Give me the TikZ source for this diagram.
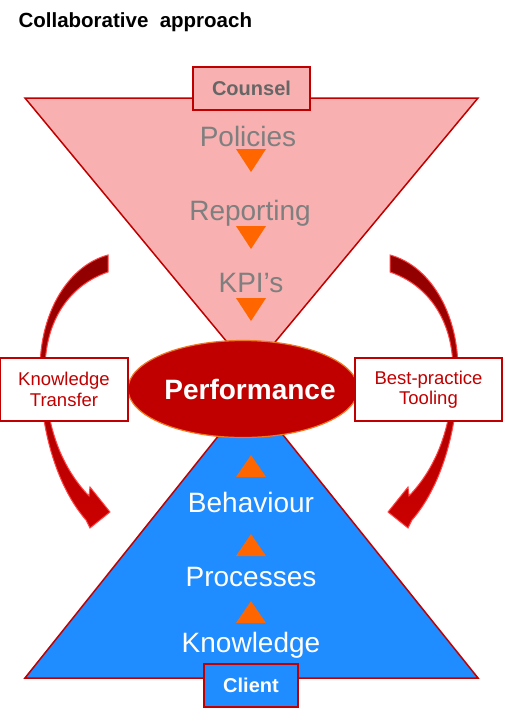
\documentclass[tikz,border=0pt]{standalone}
\usepackage{fontspec}
\setmainfont{Liberation Sans}
\usetikzlibrary{shapes.geometric}
\definecolor{darkred}{HTML}{C00000}
\definecolor{pinkfill}{HTML}{F8B0B0}
\definecolor{bluefill}{HTML}{1F8CFF}
\definecolor{arrowtop}{HTML}{8E0000}
\definecolor{arrowbot}{HTML}{CC0000}
\definecolor{arrowedge}{HTML}{FF4545}
\definecolor{tipfill}{HTML}{FF6600}
\definecolor{ellipseedge}{HTML}{F07820}
\definecolor{graytext}{HTML}{7F7F7F}
\definecolor{labelgray}{HTML}{666666}
\newcommand{\txtsize}[1]{\fontsize{#1}{#1}\selectfont}
\newcommand{\bentarrow}{%
  \path[crescent] (108,255) .. controls (70,265) and (40,310) .. (40,370)
    .. controls (40,432) and (58,488) .. (86,520)
    -- (90,528) -- (110,512) -- (90,487) -- (89,496)
    .. controls (64,470) and (45,430) .. (45,370)
    .. controls (45,320) and (70,285) .. (108,272) -- cycle;}

\begin{document}
\begin{tikzpicture}[x=1pt,y=-1pt,
    labelbox/.style={draw=darkred, line width=2pt, minimum height=43pt, inner sep=0pt, font=\bfseries\txtsize{20}},
    sidebox/.style={draw=darkred, line width=2pt, fill=white, minimum height=63pt, inner sep=0pt, align=center, text=darkred, font=\txtsize{18.5}},
    level/.style={anchor=base, font=\txtsize{28}},
    tip/.style={fill=tipfill},
    crescent/.style={top color=arrowtop, bottom color=arrowbot, draw=arrowedge, line width=1pt}]
        \useasboundingbox (0,0) rectangle (504,723);
        \node[anchor=base west, font=\bfseries\txtsize{20.5}] (title) at (15,27) {Collaborative~~approach};
        % the two funnels
        \draw[darkred, line width=1.5pt, fill=pinkfill] (25,98) -- (478,98) -- (251,371) -- cycle;
        \draw[darkred, line width=1.5pt, fill=bluefill] (25,678) -- (478,678) -- (251,395) -- cycle;
        \node[labelbox, fill=pinkfill, text=labelgray, minimum width=117pt] (counsel) at (251.5,88.5) {Counsel};
        \node[labelbox, fill=bluefill, text=white, minimum width=94pt] (client) at (251,685.5) {Client};
        \node[level, text=graytext] (policies) at (248,146) {Policies};
        \node[level, text=graytext] (reporting) at (250,220) {Reporting};
        \node[level, text=graytext] (kpis) at (251,292) {KPI’s};
        \node[level, text=white] (behaviour) at (251,512) {Behaviour};
        \node[level, text=white] (processes) at (251,586) {Processes};
        \node[level, text=white] (knowledge) at (251,652) {Knowledge};
        \foreach \y in {149,226,298} \fill[tip] (236,\y) -- (266,\y) -- (251,{\y+23}) -- cycle;
        \foreach \y in {477,556,623} \fill[tip] (236,\y) -- (266,\y) -- (251,{\y-22}) -- cycle;
        % centre
        \node[ellipse, fill=darkred, draw=ellipseedge, line width=1.2pt, minimum width=230pt, minimum height=97pt] (perfshape) at (243,389) {};
        \node[font=\bfseries\txtsize{28}, text=white] (perf) at (250,389) {Performance};
        % side arrows
        \bentarrow
        \begin{scope}[shift={(498,0)}, xscale=-1]
            \bentarrow
        \end{scope}
        \node[sidebox, minimum width=128pt] (transfer) at (64,389.5) {Knowledge\\[2pt]Transfer};
        \node[sidebox, minimum width=147pt] (tooling) at (428.5,389.5) {Best-practice\\[2pt]Tooling};
\end{tikzpicture}
\end{document}
